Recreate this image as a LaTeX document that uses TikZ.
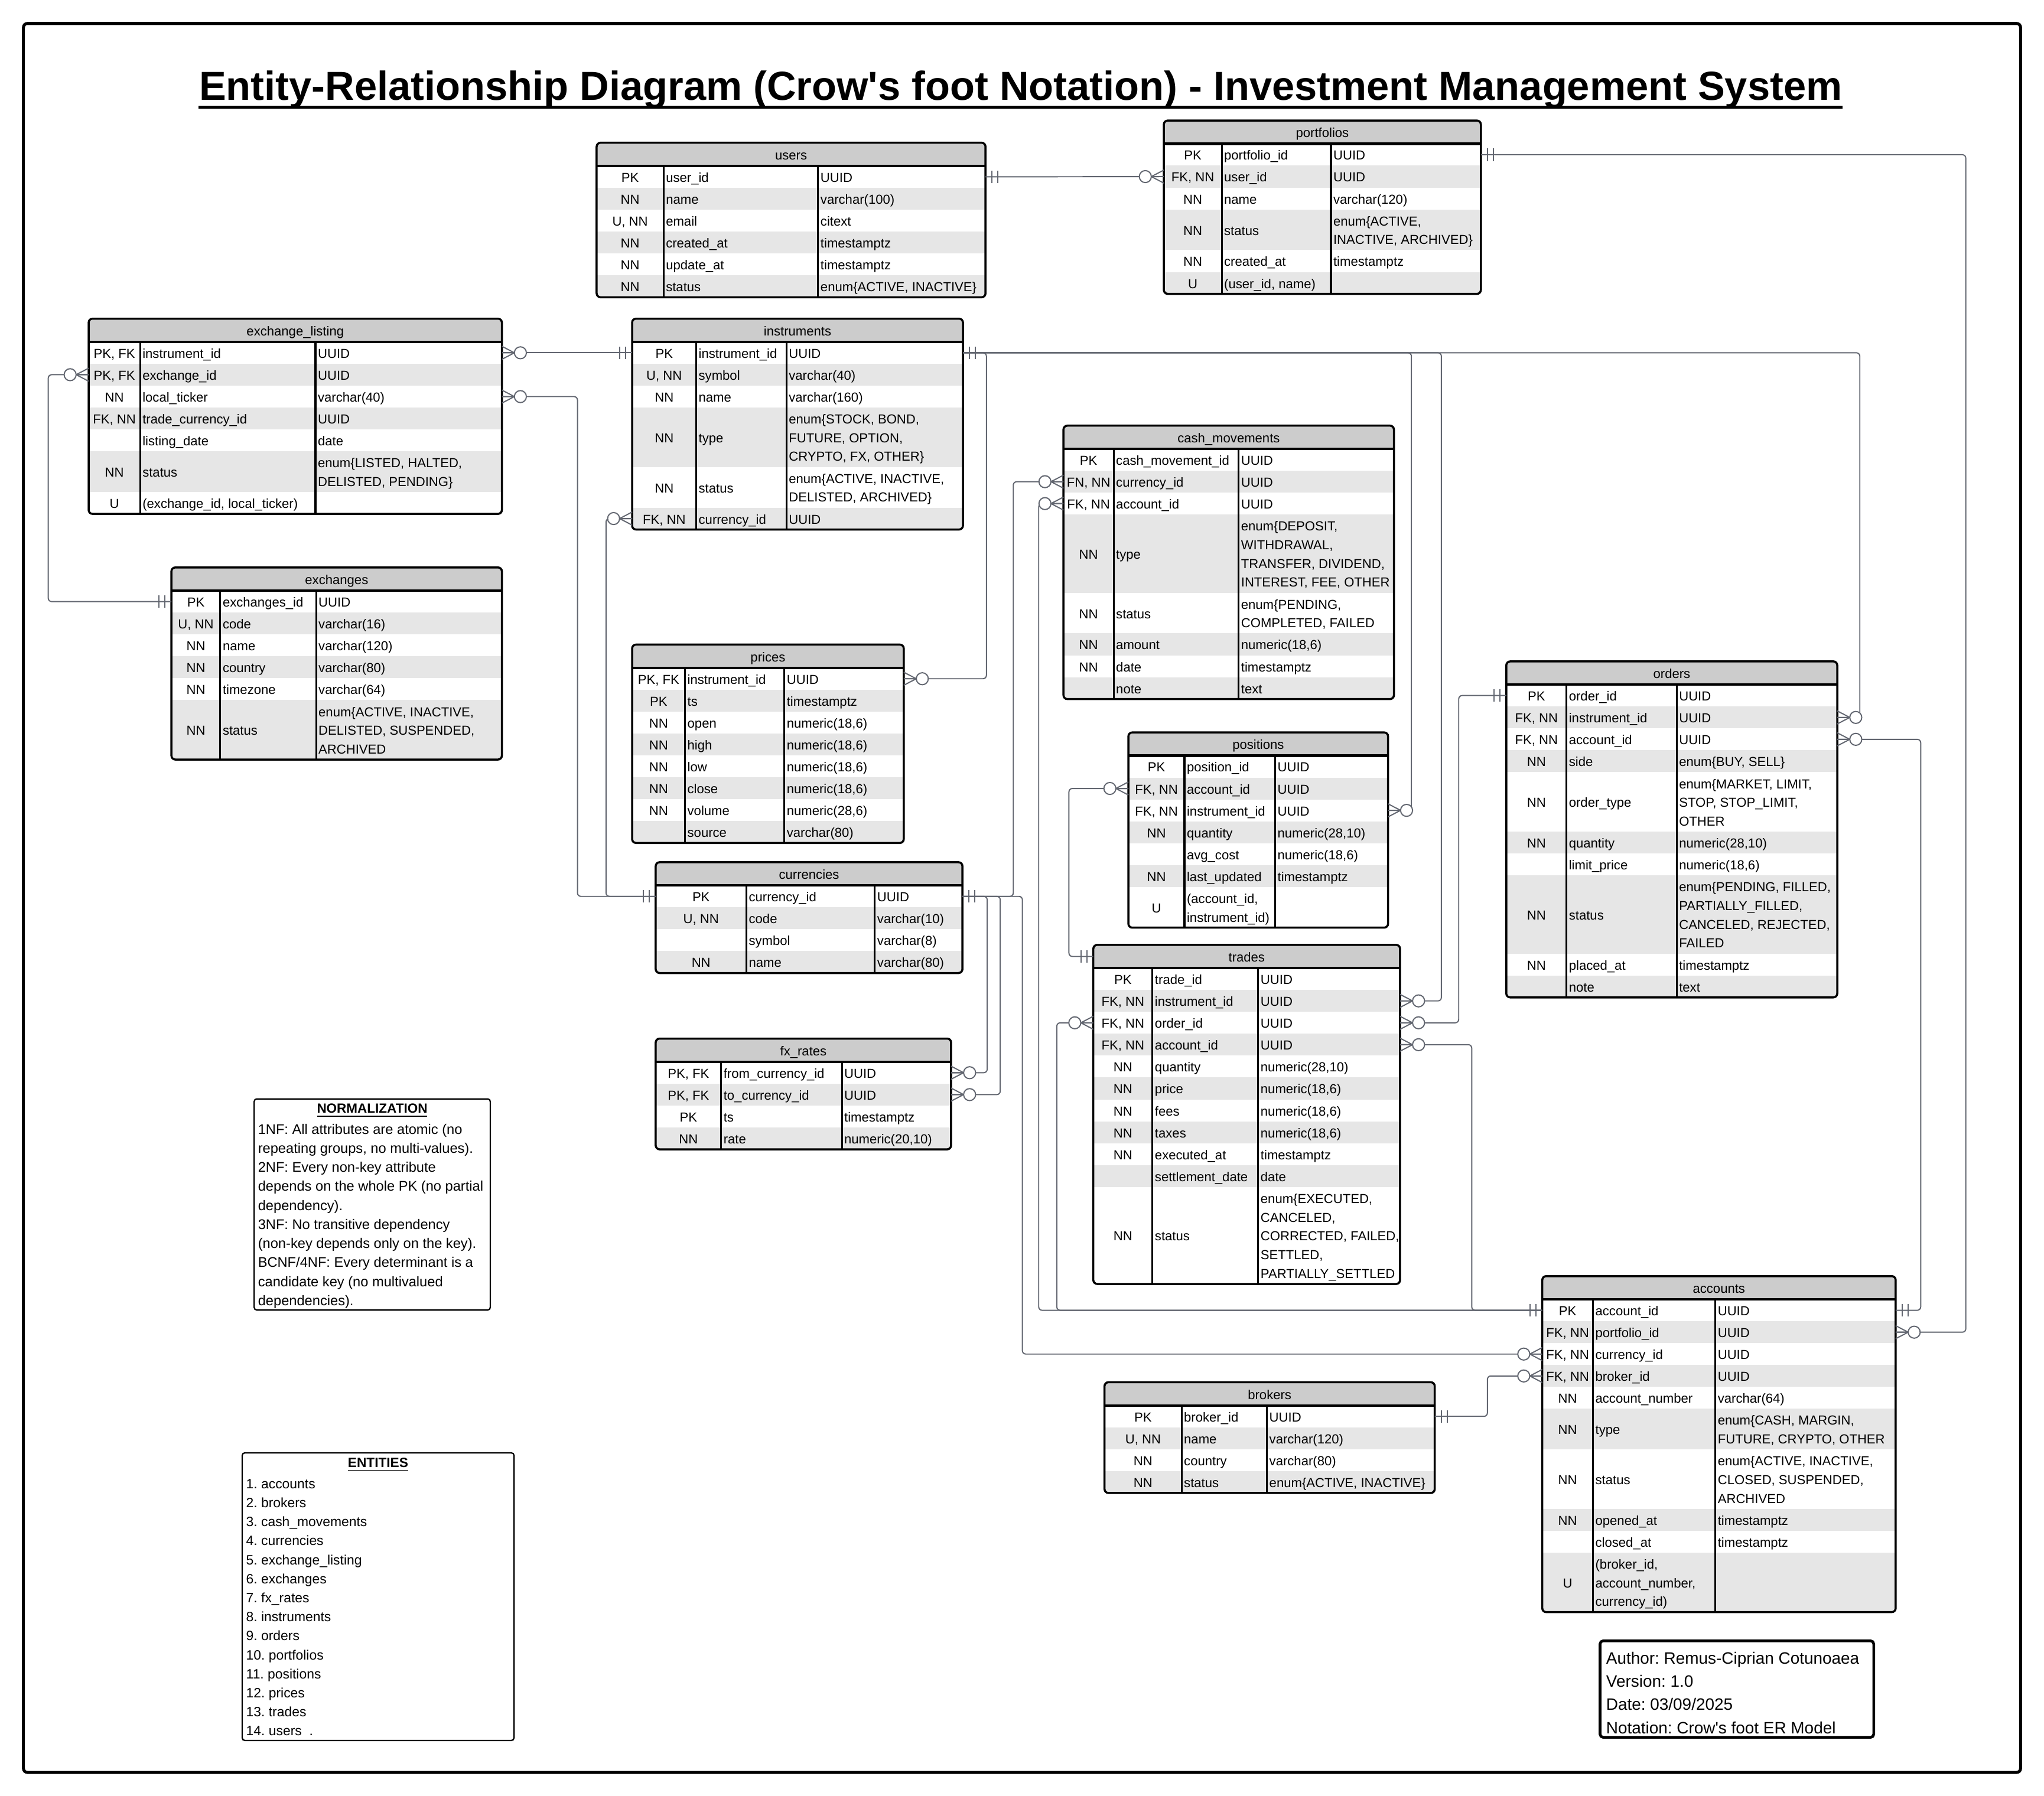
\documentclass[tikz,border=0pt]{standalone}
\usepackage{fontspec}
\setmainfont{Liberation Sans}
\usepackage{xcolor}
\usepackage{tikz}
\frenchspacing

\definecolor{headgray}{RGB}{204,204,204}
\definecolor{rowgray}{RGB}{230,230,230}
\definecolor{linegray}{RGB}{98,102,112}

\tikzset{
  rel/.style={draw=linegray, line width=0.5pt, rounded corners=1.5pt},
  cell/.style={font=\fontsize{5.7}{8.16}\selectfont, inner sep=0pt},
  notetext/.style={font=\fontsize{6.1}{8.6}\selectfont, inner sep=0pt, anchor=west},
  pics/one/.style={code={
    \draw[linegray, line width=0.5pt] (-5,-4.8) -- (-5,4.8) (-9.5,-4.8) -- (-9.5,4.8);}},
  pics/zmany/.style={code={
    \draw[linegray, line width=0.5pt] (0,-5) -- (-9.6,0) -- (0,5) (0,0) -- (-9.6,0);
    \draw[linegray, line width=0.5pt, fill=white] (-14.2,0) circle[radius=4.6];}},
}

% cell text, one or more lines
\newcommand{\ml}[1]{\begin{tabular}{@{}l@{}}#1\end{tabular}}

% table: name, x left, x key|field, x field|type, x right, y top, title, rows
\newcommand{\ertab}[8]{%
  \xdef\ersum{0}%
  \foreach \ekey/\efld/\etyp/\enl in {#8}{%
    \pgfmathsetmacro\ertmp{\ersum+16.8+14.4*(\enl-1)}\xdef\ersum{\ertmp}}%
  \pgfmathsetmacro\erbot{#6+17.8+\ersum}%
  \coordinate (#1-h-L) at (#2,#6+8.9);
  \coordinate (#1-h-R) at (#5,#6+8.9);
  \begin{scope}
    \clip[rounded corners=0.6mm] (#2,#6) rectangle (#5,\erbot);
    \fill[headgray] (#2,#6) rectangle (#5,#6+17.8);
    \node[cell] (#1-title) at ({(#2+#5)/2},#6+10.1) {\ml{#7}};
    \pgfmathsetmacro\ertmp{#6+17.8}\xdef\ery{\ertmp}%
    \foreach \ekey/\efld/\etyp/\enl [count=\ei] in {#8}{%
      \pgfmathsetmacro\erh{16.8+14.4*(\enl-1)}%
      \ifodd\ei\else\fill[rowgray] (#2,\ery) rectangle (#5,\ery+\erh);\fi
      \coordinate (#1-\ei-L) at (#2,\ery+\erh/2);
      \coordinate (#1-\ei-R) at (#5,\ery+\erh/2);
      \node[cell] (#1-\ei-key) at ({(#2+#3)/2},\ery+\erh/2+1.2) {\ml{\ekey}};
      \node[cell, anchor=west] (#1-\ei-fld) at (#3+1.5,\ery+\erh/2+1.2) {\ml{\efld}};
      \node[cell, anchor=west] (#1-\ei-typ) at (#4+1.5,\ery+\erh/2+1.2) {\ml{\etyp}};
      \pgfmathsetmacro\ertmp{\ery+\erh}\xdef\ery{\ertmp}%
    }
  \end{scope}
  \draw[line width=0.8pt] (#3,#6+17.8) -- (#3,\erbot) (#4,#6+17.8) -- (#4,\erbot);
  \draw[line width=1.1pt] (#2,#6+17.8) -- (#5,#6+17.8);
  \draw[line width=0.9pt, rounded corners=0.6mm] (#2,#6) rectangle (#5,\erbot);
}

\begin{document}
\begin{tikzpicture}[x=0.2mm, y=-0.2mm]
\useasboundingbox (0,0) rectangle (1568,1378);
\fill[white] (0,0) rectangle (1568,1378);
\draw[line width=1.3pt, rounded corners=0.6mm] (18,18) rectangle (1550,1360);

% Title
\node[font=\fontsize{17.7}{20}\selectfont\bfseries, inner sep=0pt, anchor=base] (title) at (783,77)
  {Entity-Relationship Diagram (Crow\textquotesingle s foot Notation) - Investment Management System};
\draw[line width=1.3pt] ([yshift=-3pt]title.base west) -- ([yshift=-3pt]title.base east);

% Tables
\ertab{users}{457.7}{509}{627.6}{756}{109.5}{users}{
  PK/user\_id/UUID/1,
  NN/name/varchar(100)/1,
  {U, NN}/email/citext/1,
  NN/created\_at/timestamptz/1,
  NN/update\_at/timestamptz/1,
  NN/status/{enum\{ACTIVE, INACTIVE\}}/1}

\ertab{portf}{892.8}{937.2}{1021}{1136}{92.5}{portfolios}{
  PK/portfolio\_id/UUID/1,
  {FK, NN}/user\_id/UUID/1,
  NN/name/varchar(120)/1,
  NN/status/{enum\{ACTIVE,\\INACTIVE, ARCHIVED\}}/2,
  NN/created\_at/timestamptz/1,
  U/{(user\_id, name)}/{}/1}

\ertab{exlist}{68}{107.5}{242}{385}{244.5}{exchange\_listing}{
  {PK, FK}/instrument\_id/UUID/1,
  {PK, FK}/exchange\_id/UUID/1,
  NN/local\_ticker/varchar(40)/1,
  {FK, NN}/trade\_currency\_id/UUID/1,
  {}/listing\_date/date/1,
  NN/status/{enum\{LISTED, HALTED,\\DELISTED, PENDING\}}/2,
  U/{(exchange\_id, local\_ticker)}/{}/1}

\ertab{exch}{131.5}{169}{242.5}{385}{435.4}{exchanges}{
  PK/exchanges\_id/UUID/1,
  {U, NN}/code/varchar(16)/1,
  NN/name/varchar(120)/1,
  NN/country/varchar(80)/1,
  NN/timezone/varchar(64)/1,
  NN/status/{enum\{ACTIVE, INACTIVE,\\DELISTED, SUSPENDED,\\ARCHIVED}/3}

\ertab{instr}{484.9}{534.1}{603.3}{738.7}{244.5}{instruments}{
  PK/instrument\_id/UUID/1,
  {U, NN}/symbol/varchar(40)/1,
  NN/name/varchar(160)/1,
  NN/type/{enum\{STOCK, BOND,\\FUTURE, OPTION,\\CRYPTO, FX, OTHER\}}/3,
  NN/status/{enum\{ACTIVE, INACTIVE,\\DELISTED, ARCHIVED\}}/2,
  {FK, NN}/currency\_id/UUID/1}

\ertab{prices}{484.9}{525.5}{601.7}{693.3}{494.6}{prices}{
  {PK, FK}/instrument\_id/UUID/1,
  PK/ts/timestamptz/1,
  NN/open/{numeric(18,6)}/1,
  NN/high/{numeric(18,6)}/1,
  NN/low/{numeric(18,6)}/1,
  NN/close/{numeric(18,6)}/1,
  NN/volume/{numeric(28,6)}/1,
  {}/source/varchar(80)/1}

\ertab{cash}{815.8}{854.3}{950.2}{1069.3}{326.6}{cash\_movements}{
  PK/cash\_movement\_id/UUID/1,
  {FN, NN}/currency\_id/UUID/1,
  {FK, NN}/account\_id/UUID/1,
  NN/type/{enum\{DEPOSIT,\\WITHDRAWAL,\\TRANSFER, DIVIDEND,\\INTEREST, FEE, OTHER}/4,
  NN/status/{enum\{PENDING,\\COMPLETED, FAILED}/2,
  NN/amount/{numeric(18,6)}/1,
  NN/date/timestamptz/1,
  {}/note/text/1}

\ertab{posit}{865.6}{908.6}{978.2}{1064.8}{562}{positions}{
  PK/position\_id/UUID/1,
  {FK, NN}/account\_id/UUID/1,
  {FK, NN}/instrument\_id/UUID/1,
  NN/quantity/{numeric(28,10)}/1,
  {}/avg\_cost/{numeric(18,6)}/1,
  NN/last\_updated/timestamptz/1,
  U/{(account\_id,\\instrument\_id)}/{}/2}

\ertab{trades}{838.7}{884.1}{965.2}{1074}{725}{trades}{
  PK/trade\_id/UUID/1,
  {FK, NN}/instrument\_id/UUID/1,
  {FK, NN}/order\_id/UUID/1,
  {FK, NN}/account\_id/UUID/1,
  NN/quantity/{numeric(28,10)}/1,
  NN/price/{numeric(18,6)}/1,
  NN/fees/{numeric(18,6)}/1,
  NN/taxes/{numeric(18,6)}/1,
  NN/executed\_at/timestamptz/1,
  {}/settlement\_date/date/1,
  NN/status/{enum\{EXECUTED,\\CANCELED,\\CORRECTED, FAILED,\\SETTLED,\\PARTIALLY\_SETTLED}/5}

\ertab{orders}{1155.5}{1201.7}{1286.2}{1409.4}{507.5}{orders}{
  PK/order\_id/UUID/1,
  {FK, NN}/instrument\_id/UUID/1,
  {FK, NN}/account\_id/UUID/1,
  NN/side/{enum\{BUY, SELL\}}/1,
  NN/order\_type/{enum\{MARKET, LIMIT,\\STOP, STOP\_LIMIT,\\OTHER}/3,
  NN/quantity/{numeric(28,10)}/1,
  {}/limit\_price/{numeric(18,6)}/1,
  NN/status/{enum\{PENDING, FILLED,\\PARTIALLY\_FILLED,\\CANCELED, REJECTED,\\FAILED}/4,
  NN/placed\_at/timestamptz/1,
  {}/note/text/1}

\ertab{curr}{503}{572.6}{671.1}{738.3}{661.6}{currencies}{
  PK/currency\_id/UUID/1,
  {U, NN}/code/varchar(10)/1,
  {}/symbol/varchar(8)/1,
  NN/name/varchar(80)/1}

\ertab{fx}{503}{553.2}{645.8}{729.6}{796.9}{fx\_rates}{
  {PK, FK}/from\_currency\_id/UUID/1,
  {PK, FK}/to\_currency\_id/UUID/1,
  PK/ts/timestamptz/1,
  NN/rate/{numeric(20,10)}/1}

\ertab{acct}{1183.1}{1222}{1315.9}{1454.2}{979.2}{accounts}{
  PK/account\_id/UUID/1,
  {FK, NN}/portfolio\_id/UUID/1,
  {FK, NN}/currency\_id/UUID/1,
  {FK, NN}/broker\_id/UUID/1,
  NN/account\_number/varchar(64)/1,
  NN/type/{enum\{CASH, MARGIN,\\FUTURE, CRYPTO, OTHER}/2,
  NN/status/{enum\{ACTIVE, INACTIVE,\\CLOSED, SUSPENDED,\\ARCHIVED}/3,
  NN/opened\_at/timestamptz/1,
  {}/closed\_at/timestamptz/1,
  U/{(broker\_id,\\account\_number,\\currency\_id)}/{}/3}

\ertab{brok}{847.3}{906.4}{971.9}{1100.6}{1060.6}{brokers}{
  PK/broker\_id/UUID/1,
  {U, NN}/name/varchar(120)/1,
  NN/country/varchar(80)/1,
  NN/status/{enum\{ACTIVE, INACTIVE\}}/1}

% Relationships
\draw[rel] (users-1-R) -- (portf-2-L);
\draw[rel] (portf-1-R) -- ++(372,0) |- (acct-2-R);
\draw[rel] (exlist-1-R) -- (instr-1-L);
\draw[rel] (exlist-2-L) -- ++(-31,0) |- (exch-1-L);
\draw[rel] (exlist-3-R) -- ++(58,0) |- (curr-1-L);
\draw[rel] (instr-6-L) -- ++(-20,0) |- (curr-1-L);
\draw[rel] (instr-1-R) -- ++(18,0) |- (prices-1-R);
\draw[rel] (instr-1-R) -- ++(344,0) |- (posit-3-R);
\draw[rel] (instr-1-R) -- ++(367,0) |- (trades-2-R);
\draw[rel] (instr-1-R) -- ++(688,0) |- (orders-2-R);
\draw[rel] (orders-1-L) -- ++(-36.5,0) |- (trades-3-R);
\draw[rel] (trades-4-R) -- ++(55,0) |- (acct-1-L);
\draw[rel] (orders-3-R) -- ++(64,0) |- (acct-1-R);
\draw[rel] (curr-1-R) -- ++(39,0) |- (cash-2-L);
\draw[rel] (cash-3-L) -- ++(-19,0) |- (acct-1-L);
\draw[rel] (trades-3-L) -- ++(-28,0) |- (acct-1-L);
\draw[rel] (posit-2-L) -- ++(-45.6,0) |- (trades-h-L);
\draw[rel] (curr-1-R) -- ++(19,0) |- (fx-1-R);
\draw[rel] (curr-1-R) -- ++(29,0) |- (fx-2-R);
\draw[rel] (curr-1-R) -- ++(46,0) |- (acct-3-L);
\draw[rel] (brok-1-R) -- ++(40.4,0) |- (acct-4-L);

% Crow's foot ends
\pic[xscale=-1] at (users-1-R) {one};
\pic at (portf-2-L) {zmany};
\pic[xscale=-1] at (portf-1-R) {one};
\pic[xscale=-1] at (acct-2-R) {zmany};
\pic[xscale=-1] at (exlist-1-R) {zmany};
\pic at (instr-1-L) {one};
\pic at (exlist-2-L) {zmany};
\pic at (exch-1-L) {one};
\pic[xscale=-1] at (exlist-3-R) {zmany};
\pic at (curr-1-L) {one};
\pic at (instr-6-L) {zmany};
\pic[xscale=-1] at (instr-1-R) {one};
\pic[xscale=-1] at (prices-1-R) {zmany};
\pic[xscale=-1] at (posit-3-R) {zmany};
\pic[xscale=-1] at (trades-2-R) {zmany};
\pic[xscale=-1] at (orders-2-R) {zmany};
\pic at (orders-1-L) {one};
\pic[xscale=-1] at (trades-3-R) {zmany};
\pic[xscale=-1] at (trades-4-R) {zmany};
\pic at (acct-1-L) {one};
\pic[xscale=-1] at (orders-3-R) {zmany};
\pic[xscale=-1] at (acct-1-R) {one};
\pic[xscale=-1] at (curr-1-R) {one};
\pic at (cash-2-L) {zmany};
\pic at (cash-3-L) {zmany};
\pic at (trades-3-L) {zmany};
\pic at (posit-2-L) {zmany};
\pic at (trades-h-L) {one};
\pic[xscale=-1] at (fx-1-R) {zmany};
\pic[xscale=-1] at (fx-2-R) {zmany};
\pic at (acct-3-L) {zmany};
\pic[xscale=-1] at (brok-1-R) {one};
\pic at (acct-4-L) {zmany};

% Normalization note
\draw[line width=0.6pt, rounded corners=0.4mm] (195,843.2) rectangle (376.1,1005.2);
\node[font=\fontsize{5.8}{7}\selectfont\bfseries, inner sep=0pt] (normtitle) at (285.5,852.2) {\underline{NORMALIZATION}};
\foreach \nline [count=\j] in {{1NF: All attributes are atomic (no},
  {repeating groups, no multi-values).},
  {2NF: Every non-key attribute},
  {depends on the whole PK (no partial},
  {dependency).},
  {3NF: No transitive dependency},
  {(non-key depends only on the key).},
  {BCNF/4NF: Every determinant is a},
  {candidate key (no multivalued},
  {dependencies).}}
  \node[notetext] (norm-\j) at (197.6,{867.2+14.6*(\j-1)}) {\ml{\nline}};

% Entity list
\draw[line width=0.6pt, rounded corners=0.4mm] (185.8,1114.8) rectangle (394.3,1335.5);
\node[font=\fontsize{5.85}{7}\selectfont\bfseries, inner sep=0pt] (enttitle) at (290,1123.9) {\underline{ENTITIES}};
\foreach \nline [count=\j] in {1. accounts, 2. brokers, 3. cash\_movements, 4. currencies,
  5. exchange\_listing, 6. exchanges, 7. fx\_rates, 8. instruments, 9. orders,
  10. portfolios, 11. positions, 12. prices, 13. trades, {14. users\ \ .}}
  \node[notetext, font=\fontsize{5.9}{8.4}\selectfont] (ent-\j) at (188.5,{1139.1+14.6*(\j-1)}) {\ml{\nline}};

% Author box
\draw[line width=1.2pt, rounded corners=0.5mm] (1227.4,1259) rectangle (1437.4,1333.1);
\foreach \nline [count=\j] in {Author: Remus-Ciprian Cotunoaea, Version: 1.0, Date: 03/09/2025,
  Notation: Crow\textquotesingle s foot ER Model}
  \node[notetext, font=\fontsize{7.2}{9}\selectfont] (info-\j) at (1231.8,{1273.5+17.8*(\j-1)}) {\ml{\nline}};
\end{tikzpicture}
\end{document}
